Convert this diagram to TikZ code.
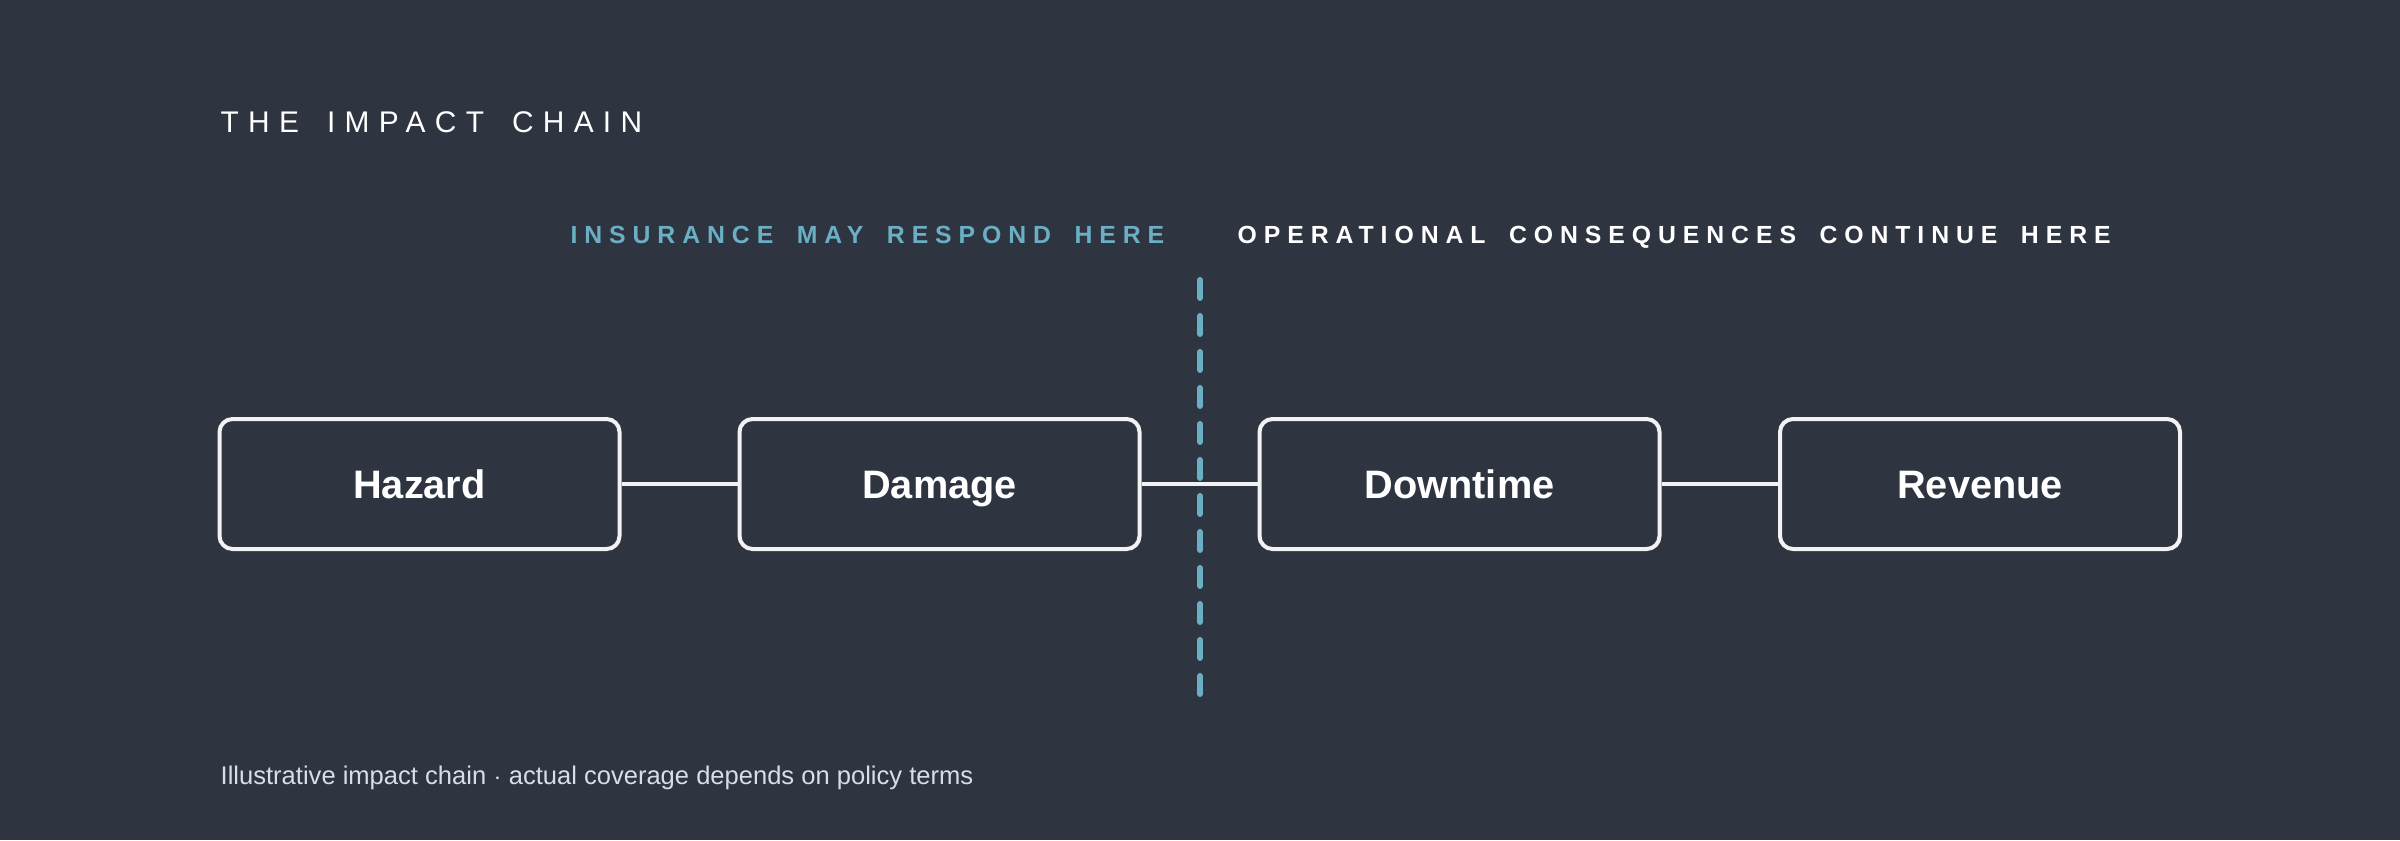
\documentclass[tikz,border=0pt]{standalone}
\usepackage{fontspec}
\setmainfont{Liberation Sans}
\newfontfamily\titlefont[LetterSpace=31,WordSpace=1.6]{Liberation Sans}
\newfontfamily\headfont[LetterSpace=28,WordSpace=1.7]{Liberation Sans}
\usepackage{tikz}
\usetikzlibrary{arrows,positioning,backgrounds,calc}
\definecolor{bgdark}{HTML}{2E3440}
\definecolor{frost}{HTML}{6AAFC4}
\definecolor{boxline}{HTML}{F2F2F2}
\definecolor{footgrey}{HTML}{D8DEE9}
\tikzset{
	stage/.style={rectangle,rounded corners=0.13cm,draw=boxline,fill=bgdark,line width=0.04cm,minimum width=4cm,minimum height=1.3cm,text=white,font=\fontsize{11.3}{13}\selectfont\bfseries,text height=8.1pt,text depth=0pt},
	link/.style={color=boxline, line width=0.034cm},
	divider/.style={color=frost, line width=0.06cm, line cap=round, dash pattern=on 0.18cm off 0.18cm},
	headlabel/.style={inner sep=0pt,font=\headfont\fontsize{7.05}{8}\selectfont\bfseries},
	plainlabel/.style={inner sep=0pt}
}
\begin{document}
\begin{tikzpicture}
	\fill[bgdark] (0,0) rectangle (24,-8.4);
	\useasboundingbox (0,0) rectangle (24,-8.4);
	%%%title
	\node[plainlabel,anchor=base west,text=white,font=\titlefont\fontsize{8.5}{10}\selectfont] (title) at (2.20,-1.32) {THE IMPACT CHAIN};
	
	%%%divider
	\coordinate (divtop) at (12,-2.80);
	\coordinate (divbot) at (12,-6.95);
	\draw[divider] (divtop) -- (divbot);
	\node[headlabel,anchor=base east,text=frost] (insured) at (11.65,-2.43) {INSURANCE MAY RESPOND HERE};
	\node[headlabel,anchor=base west,text=white] (operational) at (12.37,-2.43) {OPERATIONAL CONSEQUENCES CONTINUE HERE};
	
	%%%chain
	\node[stage] (hazard) at (4.195,-4.84) {Hazard};
	\node[stage] (damage) at (9.395,-4.84) {Damage};
	\node[stage] (downtime) at (14.595,-4.84) {Downtime};
	\node[stage] (revenue) at (19.80,-4.84) {Revenue};
	\draw[link] (hazard) -- (damage);
	\draw[link] (damage) -- (downtime);
	\draw[link] (downtime) -- (revenue);
	
	%%%note
	\node[plainlabel,anchor=base west,text=footgrey,font=\fontsize{7.27}{9}\selectfont] (note) at (2.20,-7.84) {Illustrative impact chain $\cdot$ actual coverage depends on policy terms};
\end{tikzpicture}
\end{document}
